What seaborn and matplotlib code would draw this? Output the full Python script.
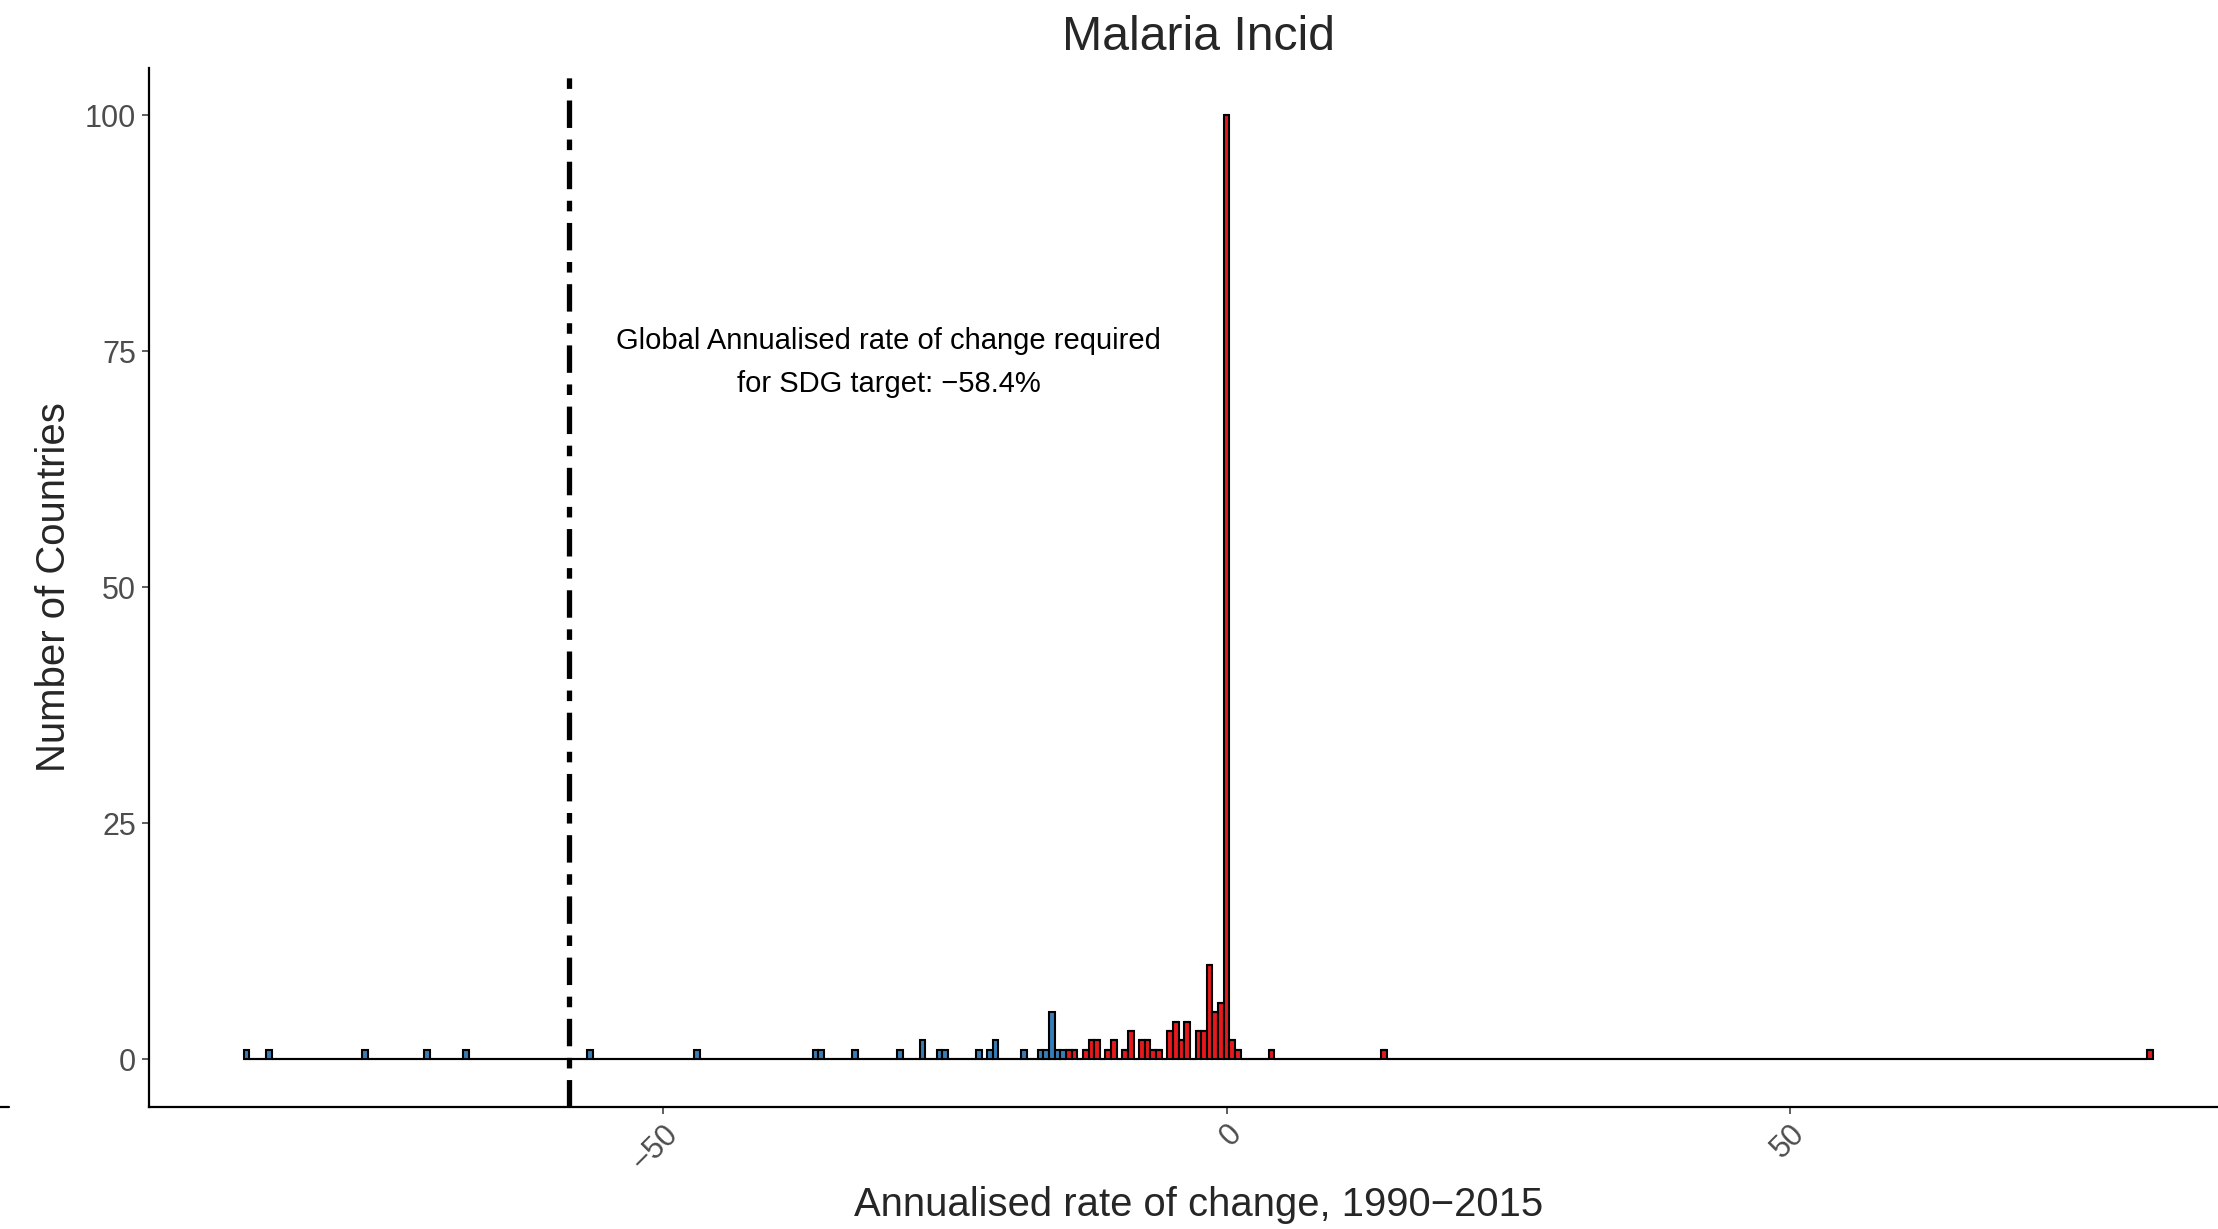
import numpy as np
import pandas as pd
import matplotlib
matplotlib.use('Agg')
import matplotlib.pyplot as plt
from matplotlib.lines import Line2D
import seaborn as sns

# annualised rate of change per bin (bin centres) and number of countries
blue_rates = [-87.0, -85.0, -76.5, -71.0, -67.5, -56.5, -47.0, -36.5, -36.0, -33.0,
              -29.0, -27.0, -25.5, -25.0, -22.0, -21.0, -20.5, -18.0, -16.5, -16.0,
              -15.5, -15.0, -14.5]
blue_counts = [1, 1, 1, 1, 1, 1, 1, 1, 1, 1,
               1, 2, 1, 1, 1, 1, 2, 1, 1, 1,
               5, 1, 1]
red_rates = [-14.0, -13.5, -12.5, -12.0, -11.5, -10.5, -10.0, -9.0, -8.5, -7.5,
             -7.0, -6.5, -6.0, -5.0, -4.5, -4.0, -3.5, -2.5, -2.0, -1.5,
             -1.0, -0.5, 0.0, 0.5, 1.0, 4.0, 14.0, 82.0]
red_counts = [1, 1, 1, 2, 2, 1, 2, 1, 3, 2,
              2, 1, 1, 3, 4, 2, 4, 3, 3, 10,
              5, 6, 100, 2, 1, 1, 1, 1]

sdg_target = -58.4
x_ticks = [-50, 0, 50]
y_ticks = [0, 25, 50, 75, 100]

df = pd.DataFrame({
    'rate': blue_rates + red_rates,
    'count': blue_counts + red_counts,
    'group': ['blue'] * len(blue_rates) + ['red'] * len(red_rates),
})

sns.set_theme(style="white")
plt.rcParams['font.family'] = ['Liberation Sans', 'DejaVu Sans']

W, H = 2218, 1229
fig = plt.figure(figsize=(W / 100, H / 100), dpi=100)
# panel runs a little past the right edge (cropped plot)
ax = fig.add_axes([148.7 / W, 1 - 1106.5 / H, (2248 - 148.7) / W, (1106.5 - 68) / H])

sns.histplot(data=df, x='rate', weights='count', hue='group', multiple='stack',
             binwidth=0.5, binrange=(-87.25, 82.25),
             palette={'blue': '#377eb8', 'red': '#e41a1c'}, hue_order=['blue', 'red'],
             edgecolor='black', linewidth=1.5, alpha=1, legend=False, ax=ax)

ax.axvline(sdg_target, color='black', lw=3.8, linestyle=(0, (5.2, 2.2, 2.0, 2.2)))
ax.text(-30, 73.8, "Global Annualised rate of change required\nfor SDG target: \u221258.4%",
        ha='center', va='center', fontsize=21, linespacing=1.7, color='black')

ax.set_xlim(-95.7, 90.7)
ax.set_ylim(-5, 105)
ax.set_xticks(x_ticks)
ax.set_xticklabels([f"{t}".replace('-', '\u2212') for t in x_ticks],
                   rotation=45, ha='right', va='top', rotation_mode='anchor')
ax.set_yticks(y_ticks)
ax.tick_params(axis='both', length=5, width=1.1, color='#333333',
               labelcolor='#4d4d4d', labelsize=22, pad=4)
ax.tick_params(axis='both', bottom=True, left=True)

sns.despine(ax=ax)
for s in ['left', 'bottom']:
    ax.spines[s].set_color('black')
    ax.spines[s].set_linewidth(1.6)

ax.set_title("Malaria Incid", fontsize=34.7, pad=13)
ax.set_xlabel("Annualised rate of change, 1990\u22122015", fontsize=28.8)
ax.set_ylabel("Number of Countries", fontsize=28.9)
ax.xaxis.set_label_coords(0.5, -0.0948)
ax.xaxis.label.set_va('center')
ax.yaxis.set_label_coords(-0.0451, 0.5)
ax.yaxis.label.set_va('center')

# stray axis stub at the left edge of the original image
fig.add_artist(Line2D([0, 9 / W], [1 - 1106.5 / H] * 2, transform=fig.transFigure,
                      color='black', lw=1.6))

fig.savefig("out.png", dpi=100)
